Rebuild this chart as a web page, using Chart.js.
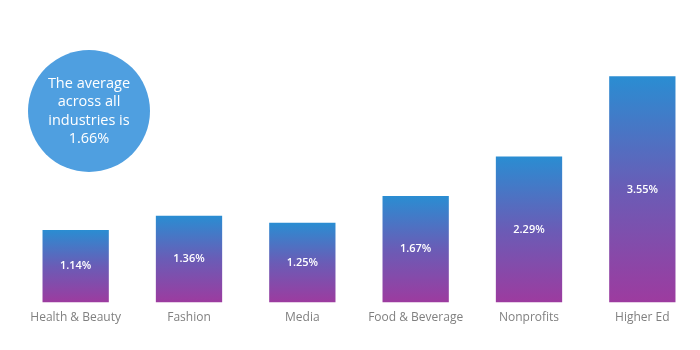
<!DOCTYPE html>
<html>
<head>
<meta charset="utf-8">
<script src="https://cdn.jsdelivr.net/npm/chart.js@4"></script>
<style>
  html, body { margin: 0; padding: 0; background: #fff; }
  #wrap { width: 700px; height: 350px; position: relative; }
</style>
</head>
<body>
<div id="wrap"><canvas id="chart"></canvas></div>
<script>
const categories = ["Health & Beauty", "Fashion", "Media", "Food & Beverage", "Nonprofits", "Higher Ed"];
const rates = [1.14, 1.36, 1.25, 1.67, 2.29, 3.55];
const averageLines = ["The average", "across all", "industries is", "1.66%"];

// each bar gets its own blue -> purple gradient, top to bottom
function barGradient(ctx) {
  const chart = ctx.chart;
  const y = chart.scales && chart.scales.y;
  if (!chart.chartArea || !y || ctx.dataIndex === undefined) return "#5a6ab8";
  const top = y.getPixelForValue(rates[ctx.dataIndex]);
  const bottom = y.getPixelForValue(0);
  if (!isFinite(top) || !isFinite(bottom)) return "#5a6ab8";
  const g = chart.ctx.createLinearGradient(0, top, 0, bottom);
  g.addColorStop(0, "#2a8dd2");
  g.addColorStop(0.5, "#6a5cb6");
  g.addColorStop(1, "#9d3b9f");
  return g;
}

const valueLabels = {
  id: "valueLabels",
  afterDatasetsDraw(chart) {
    const c = chart.ctx;
    c.save();
    c.fillStyle = "#fff";
    c.font = "600 11px 'Open Sans'";
    c.textAlign = "center";
    c.textBaseline = "middle";
    chart.getDatasetMeta(0).data.forEach((bar, i) => {
      c.fillText(rates[i].toFixed(2) + "%", bar.x, (bar.y + bar.base) / 2);
    });
    c.restore();
  }
};

const averageBubble = {
  id: "averageBubble",
  afterDraw(chart) {
    const c = chart.ctx;
    c.save();
    c.fillStyle = "#4f9fe0";
    c.beginPath();
    c.arc(89, 111, 61, 0, Math.PI * 2);
    c.fill();
    c.fillStyle = "#fff";
    c.font = "14.5px 'Open Sans'";
    c.textAlign = "center";
    c.textBaseline = "middle";
    averageLines.forEach((t, i) => c.fillText(t, 89, 84 + i * 18.3));
    c.restore();
  }
};

new Chart(document.getElementById("chart"), {
  type: "bar",
  data: {
    labels: categories,
    datasets: [{
      data: rates,
      backgroundColor: barGradient,
      borderWidth: 0,
      categoryPercentage: 1,
      barPercentage: 0.585
    }]
  },
  options: {
    responsive: true,
    maintainAspectRatio: false,
    animation: false,
    layout: { padding: { left: 19, right: 1, top: 0, bottom: 25 } },
    plugins: { legend: { display: false }, tooltip: { enabled: false } },
    scales: {
      x: {
        grid: { display: false },
        border: { display: false },
        ticks: { color: "#808080", font: { family: "Open Sans", size: 12 }, padding: 0 }
      },
      y: {
        display: false,
        min: 0,
        max: 4.744
      }
    }
  },
  plugins: [valueLabels, averageBubble]
});
</script>
</body>
</html>
